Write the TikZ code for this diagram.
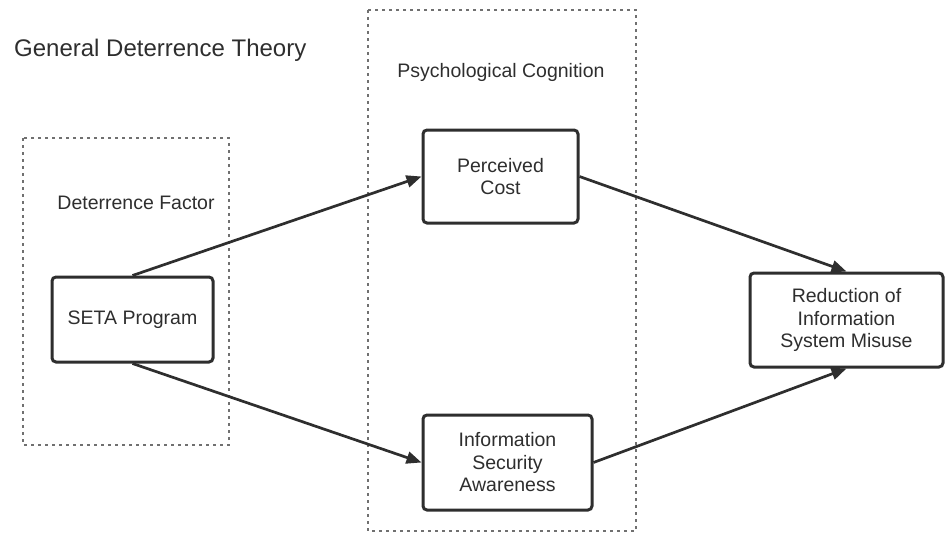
\documentclass[tikz,border=0pt]{standalone}
\usepackage{fontspec}
\setmainfont{Liberation Sans}
\usepackage{tikz}
\usetikzlibrary{arrows.meta}
\definecolor{ink}{HTML}{2E2E2E}
\definecolor{dots}{HTML}{707070}
\def\labelfont{\fontsize{19.5}{22.5}\selectfont}

\begin{document}
\begin{tikzpicture}[x=1pt, y=-1pt,
		factorbox/.style={draw=ink, line width=3pt, rounded corners=4pt, fill=white, text=ink, align=center, inner sep=0pt, font=\labelfont},
		groupbox/.style={draw=dots, line width=2.6pt, dash pattern=on 3pt off 4pt},
		grouplabel/.style={text=ink, font=\labelfont, inner sep=0pt},
		link/.style={draw=ink, line width=2.7pt, -{Triangle[length=15pt, width=12pt]}}]
			%%%%% START %%%%%
			\useasboundingbox (0, 0) rectangle (945, 533);
			
			\node[text=ink, font=\fontsize{24}{28}\selectfont, inner sep=0pt, anchor=west] (theory) at (14, 50) {General Deterrence Theory};
			
			\draw[groupbox] (23, 138) rectangle (229, 445);
			\node[grouplabel] (factor) at (136, 203) {Deterrence Factor};
			
			\draw[groupbox] (368, 10) rectangle (636, 531);
			\node[grouplabel] (cognition) at (501, 72) {Psychological Cognition};
			
			\node[factorbox, minimum width=161, minimum height=85] (seta) at (132.5, 319.5) {SETA Program};
			\node[factorbox, minimum width=155, minimum height=93] (cost) at (500.5, 176.5) {Perceived\\Cost};
			\node[factorbox, minimum width=169, minimum height=95] (awareness) at (507.5, 462.5) {Information\\Security\\Awareness};
			\node[factorbox, minimum width=193, minimum height=94] (misuse) at (846.5, 320) {Reduction of\\Information\\System Misuse};
			
			\draw[link] (seta.north) -- (cost.west);
			\draw[link] (seta.south) -- (awareness.west);
			\draw[link] (cost.east) -- (misuse.north);
			\draw[link] (awareness.east) -- (misuse.south);
			
			%%%%% END %%%%%
		\end{tikzpicture}
\end{document}
